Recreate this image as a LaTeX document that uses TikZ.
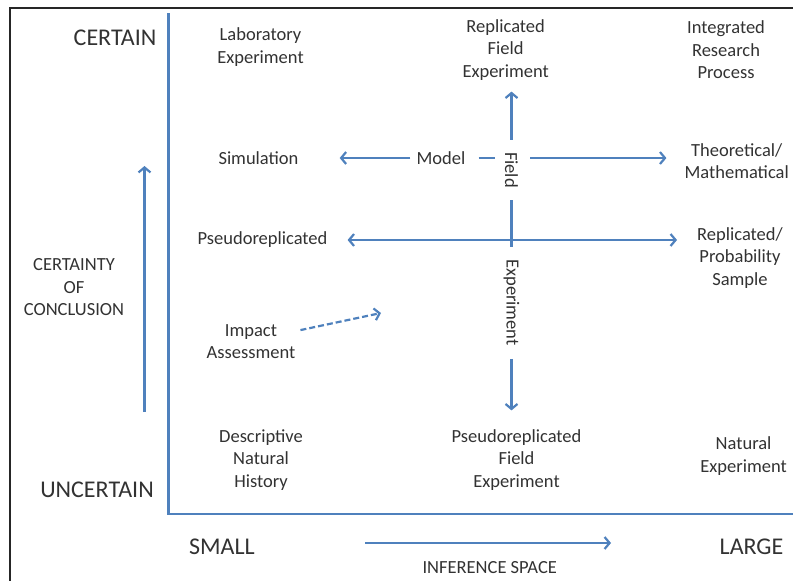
\documentclass[tikz,border=0pt]{standalone}
\usepackage{fontspec}
\setmainfont{Carlito}
\usepackage{xcolor}
\definecolor{axisblue}{RGB}{79,129,189}
\definecolor{labelgray}{RGB}{50,50,50}
\usetikzlibrary{arrows.meta}
\usetikzlibrary{calc}
\tikzset{
  lbl/.style={text=labelgray,align=center,inner sep=3pt,font=\fontsize{18.5}{22.5}\selectfont},
  biglbl/.style={text=labelgray,inner sep=3pt,font=\fontsize{24}{28}\selectfont},
  arr/.style={draw=axisblue,line width=2.2pt,-{Straight Barb[length=5pt,width=12pt]}},
  ln/.style={draw=axisblue,line width=2.2pt},
  axis/.style={draw=axisblue,line width=2.4pt},
  frame/.style={draw=black!85,line width=2pt}
}

\begin{document}
\begin{tikzpicture}[x=1pt,y=-1pt]
\useasboundingbox (0,0) rectangle (793,581);
\draw[frame] (10,581) |- (793,8);
\coordinate (axtop) at (168.5,13);
\coordinate (axend) at (793,514);
\coordinate (cbot) at (144.5,412);
\coordinate (ctop) at (144.5,166);
\coordinate (ibeg) at (365,543);
\coordinate (iend) at (611,543);
\coordinate (imptip) at (381,313);
\node[biglbl] (certain) at (115,38) {CERTAIN};
\node[biglbl] (uncertain) at (97,490) {UNCERTAIN};
\node[biglbl] (small) at (222,547) {SMALL};
\node[biglbl] (large) at (751.5,547) {LARGE};
\node[lbl,font=\fontsize{18.5}{22}\selectfont] (infspace) at (489.7,568) {INFERENCE SPACE};
\node[lbl] (concl) at (74,287.5) {CERTAINTY\\OF\\CONCLUSION};
\node[lbl] (lab) at (260.5,47) {Laboratory\\Experiment};
\node[lbl] (repfield) at (505.7,50) {Replicated\\Field\\Experiment};
\node[lbl] (integ) at (726,50) {Integrated\\Research\\Process};
\node[lbl] (sim) at (258.5,158) {Simulation};
\node[lbl] (model) at (441,158) {Model};
\node[lbl,rotate=-90] (field) at (511.5,170) {Field};
\node[lbl] (theo) at (736.7,161) {Theoretical/\\Mathematical};
\node[lbl] (pseudo) at (262.5,240) {Pseudoreplicated};
\node[lbl] (repprob) at (740,258) {Replicated/\\Probability\\Sample};
\node[lbl,rotate=-90] (expt) at (511.5,302.5) {Experiment};
\node[lbl] (impact) at (251,341.5) {Impact\\Assessment};
\node[lbl] (descr) at (261,460) {Descriptive\\Natural\\History};
\node[lbl] (pfield) at (516.5,460) {Pseudoreplicated\\Field\\Experiment};
\node[lbl] (natural) at (743.6,456) {Natural\\Experiment};
\draw[axis] (axtop) |- (axend);
\draw[arr] (cbot) -- (ctop);
\draw[arr] (ibeg) -- (iend);
\draw[arr,shorten <=3pt,shorten >=38pt] (model) -- (sim);
\draw[ln,shorten <=10pt,shorten >=7pt] (model.east) -- (model.east -| field.south);
\draw[arr,shorten <=9pt,shorten >=15pt] (model.east -| field.north) -- (model.east -| theo.west);
\draw[arr,shorten <=9pt,shorten >=8pt] (field.west) -- (field.west |- repfield.south);
\draw[ln,shorten <=9pt,shorten >=9pt] (field.east) -- (expt.west);
\draw[arr,shorten <=10pt,shorten >=16pt] (expt.east) -- (expt.east |- pfield.north);
\draw[arr,{Straight Barb[length=5pt,width=12pt]}-{Straight Barb[length=5pt,width=12pt]},shorten <=17pt,shorten >=17pt] (pseudo.east) -- (pseudo.east -| repprob.west);
\draw[arr,dash pattern=on 6pt off 3pt,shorten <=2pt] ([yshift=11pt]impact.east) -- (imptip);
\end{tikzpicture}
\end{document}
